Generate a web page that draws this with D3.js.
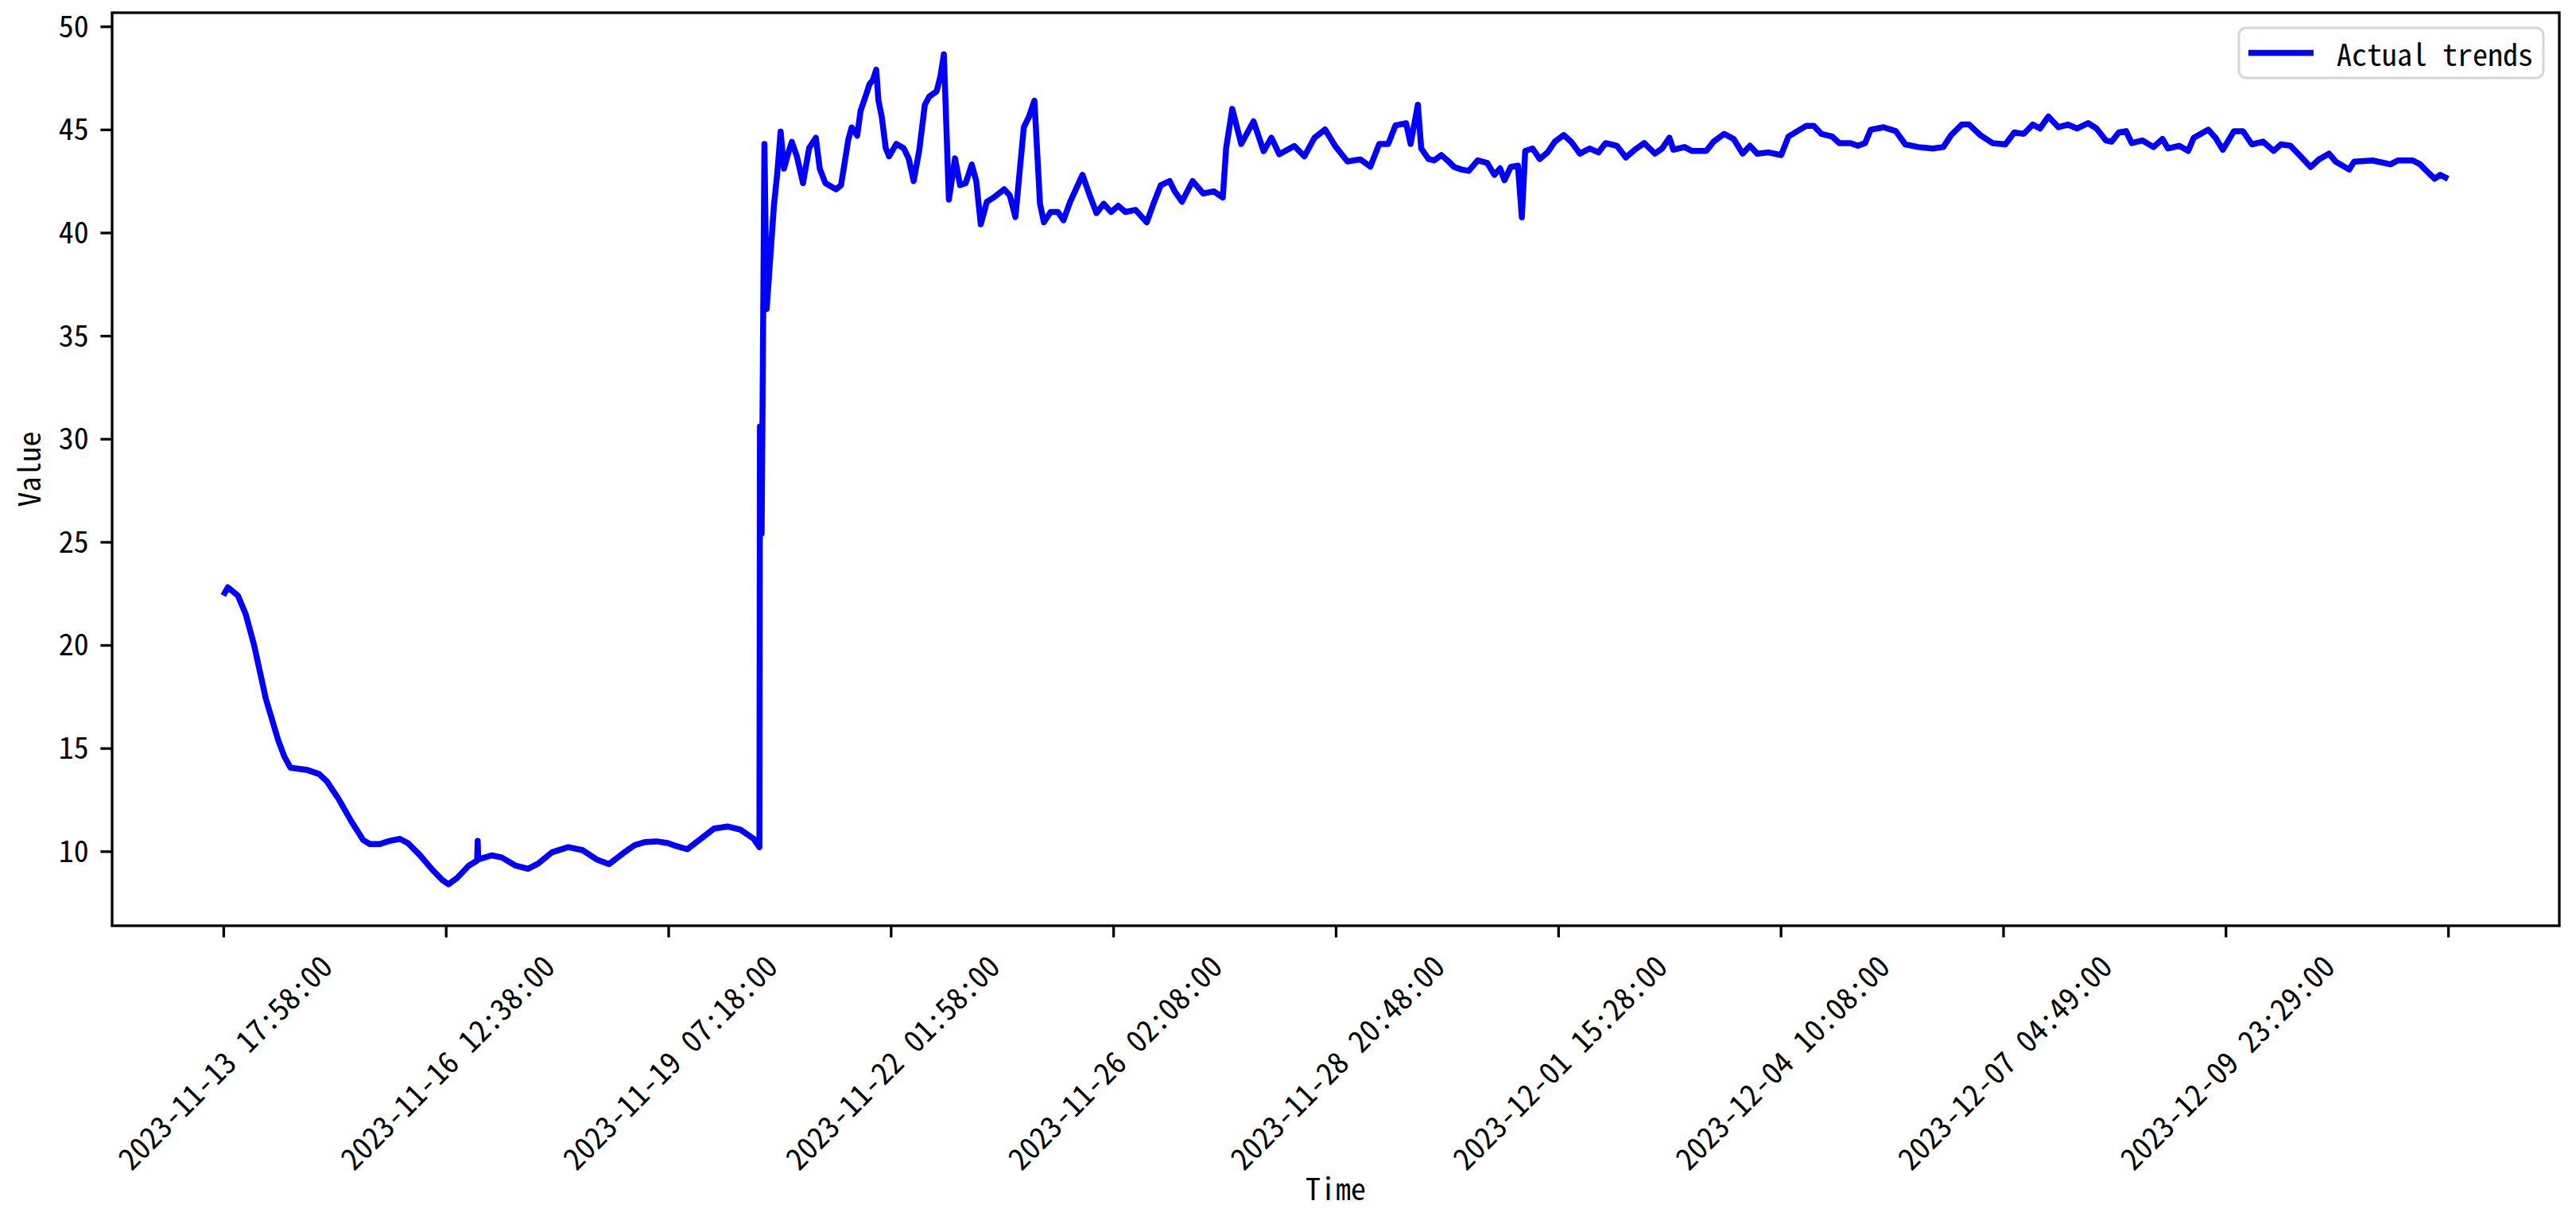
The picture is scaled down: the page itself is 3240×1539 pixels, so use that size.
<!DOCTYPE html>
<html><head><meta charset="utf-8">
<script src="https://cdn.jsdelivr.net/npm/d3@7"></script>
<style>
html,body{margin:0;padding:0;background:#fff;}
svg{display:block;background:#fff;}
text{font-family:"Noto Sans Mono CJK SC","Noto Sans Mono CJK JP","Liberation Mono","DejaVu Sans Mono",monospace;fill:#000;}
</style></head><body>
<svg id="chart" width="3240" height="1539"></svg>
<script>
// ---- data (sample number of the 10-minute series, value) ----
const sampleIdx = [0,8,26,40,55,76,98,109,120,149,171,185,207,229,250,262,280,297,316,330,352,374,392,403,418,439,454,455,456,480,498,523,545,563,588,617,643,668,690,715,736,755,775,795,807,830,854,878,902,925,949,959,
960,961,963,968,972,978,985,991,997,1003,1010,1017,1026,1037,1048,1060,1067,1077,1096,1105,1111,1118,1124,1134,1140,1150,1156,1162,1168,1172,1178,1185,1191,1204,1217,1226,1235,1245,1255,1263,1276,1283,1289,1298,1309,1318,1328,1339,1347,1355,1366,1378,1397,1407,1417,1432,1441,1451,1461,1468,1480,1493,1503,1515,1537,1550,1562,1575,1588,1601,1614,1632,1652,1664,1677,1693,1702,1715,1734,1753,1772,1788,1794,1805,1821,
1843,1861,1875,1889,1916,1934,1952,1971,1989,2011,2034,2052,2068,2084,2097,2116,2124,2137,
2143,2156,2166,2179,2192,2202,2215,2228,2244,2261,2274,2284,2292,2303,2316,2323,2329,2342,2355,2369,2382,2398,2411,2427,2444,2460,2473,2493,2509,2525,2542,2561,2574,2587,2594,2614,2627,2653,2666,2685,2702,2718,2731,2744,2764,2787,2800,2816,2832,2845,2859,2878,2891,2911,2924,2937,2947,2970,2992,3009,3032,3058,3077,3091,3110,3123,3143,3165,3188,3204,3221,3237,3250,3265,3283,3300,3316,3336,3351,3368,3378,3391,3404,3414,3433,3453,3469,3479,3499,3515,3525,3551,3564,3577,3597,3613,3629,3649,3668,3681,3698,3714,3734,3750,3767,3779,3803,3812,3845,3877,3890,3917,3930,3946,3956,3966,3980];
const trendValues = [22.4,22.8,22.4,21.5,20.0,17.4,15.4,14.6,14.05,13.95,13.75,13.4,12.5,11.45,10.55,10.35,10.35,10.5,10.6,10.4,9.8,9.1,8.6,8.4,8.7,9.3,9.55,10.5,9.6,9.8,9.7,9.3,9.15,9.4,9.95,10.2,10.05,9.6,9.38,9.9,10.3,10.45,10.48,10.4,10.28,10.1,10.6,11.1,11.2,11.05,10.6,10.2,
30.6,29.6,25.4,44.3,36.3,38.6,41.3,42.9,44.9,43.1,43.8,44.4,43.7,42.4,44.1,44.6,43.1,42.4,42.1,42.3,43.3,44.5,45.1,44.7,45.9,46.7,47.2,47.4,47.9,46.4,45.6,44.1,43.7,44.3,44.1,43.6,42.5,44.0,46.2,46.6,46.85,47.6,48.65,41.6,43.6,42.3,42.4,43.3,42.5,40.4,41.5,41.7,42.1,41.8,40.75,45.1,45.6,46.4,41.4,40.5,41.0,41.0,40.6,41.5,42.8,41.8,40.95,41.4,41.0,41.3,41.0,41.1,40.5,41.4,42.3,42.5,42.0,41.5,42.5,41.9,42.0,41.7,44.1,46.0,44.3,
45.4,43.95,44.6,43.8,44.2,43.7,44.6,45.0,44.2,43.45,43.55,43.2,44.3,44.3,45.2,45.3,44.3,46.2,
44.08,43.57,43.5,43.76,43.45,43.18,43.06,42.99,43.5,43.38,42.8,43.12,42.54,43.18,43.25,40.74,43.96,44.08,43.57,43.89,44.41,44.73,44.41,43.83,44.08,43.89,44.34,44.21,43.64,44.02,44.34,43.83,44.08,44.6,44.02,44.15,43.96,43.96,44.41,44.79,44.54,43.83,44.21,43.83,43.89,43.76,44.66,44.92,45.18,45.18,44.79,44.66,44.34,44.34,44.21,44.34,44.99,45.11,44.92,44.28,44.15,44.08,44.15,44.73,45.24,45.24,44.73,44.34,44.28,44.86,44.79,45.24,45.05,45.63,45.11,45.24,45.05,45.31,45.05,44.47,44.41,44.86,44.92,44.34,44.47,44.15,44.54,44.08,44.21,43.96,44.6,44.99,44.6,44.02,44.92,44.92,44.28,44.41,43.96,44.28,44.21,43.76,43.18,43.57,43.83,43.44,43.06,43.44,43.5,43.31,43.5,43.5,43.31,42.87,42.61,42.8,42.61];
const tickIndex = [0,398,796,1194,1592,1990,2388,2786,3184,3582,3980];
const tickLabels = ["2023-11-13 17:58:00","2023-11-16 12:38:00","2023-11-19 07:18:00","2023-11-22 01:58:00","2023-11-26 02:08:00","2023-11-28 20:48:00","2023-12-01 15:28:00","2023-12-04 10:08:00","2023-12-07 04:49:00","2023-12-09 23:29:00",""];
const yTicks = [10,15,20,25,30,35,40,45,50];
const seriesName = "Actual trends";
const xTitle = "Time", yTitle = "Value";

// ---- layout ----
const W = 3240, H = 1539;
const plot = {left:141, right:3219, top:16, bottom:1164};
const fs = 38, tickLen = 14.6, pad = 14.6, spineW = 3.3, lineW = 7.5;
const svg = d3.select('#chart');
svg.append('rect').attr('width',W).attr('height',H).attr('fill','#fff');

const data = sampleIdx.map((s,i)=>({s, v:trendValues[i]}));
const nLast = d3.max(sampleIdx);
const x = d3.scaleLinear().domain([-0.05*nLast, nLast*1.05]).range([plot.left, plot.right]);
const [vmin, vmax] = d3.extent(trendValues);
const vr = vmax - vmin;
const y = d3.scaleLinear().domain([vmin-0.05*vr, vmax+0.05*vr]).range([plot.bottom, plot.top]);

function mono(sel, size){
  sel.style('font-size', size+'px').each(function(){
    const n = this.textContent.length;
    if(n>0){ this.setAttribute('textLength', n*0.5*size); this.setAttribute('lengthAdjust','spacingAndGlyphs'); }
  });
}

// line
svg.append('path').datum(data)
  .attr('fill','none').attr('stroke','#0000ff').attr('stroke-width',lineW)
  .attr('stroke-linejoin','round').attr('stroke-linecap','butt')
  .attr('d', d3.line().x(d=>x(d.s)).y(d=>y(d.v)));

// x axis
const gx = svg.append('g').attr('transform',`translate(0,${plot.bottom})`)
  .call(d3.axisBottom(x).tickValues(tickIndex).tickFormat((d,i)=>tickLabels[i]).tickSize(tickLen).tickPadding(0));
gx.select('.domain').remove();
gx.selectAll('.tick line').attr('stroke','#000').attr('stroke-width',spineW);
gx.selectAll('.tick text').each(function(){
  const t = d3.select(this);
  mono(t, fs);
  const L = this.textContent.length*0.5*fs;
  const cy = tickLen + pad + (L + fs)/(2*Math.SQRT2);
  t.attr('x',0).attr('y',cy).attr('dy',null)
   .attr('text-anchor','middle').attr('dominant-baseline','central')
   .attr('transform',`rotate(-45,0,${cy})`);
});

// y axis
const gy = svg.append('g').attr('transform',`translate(${plot.left},0)`)
  .call(d3.axisLeft(y).tickValues(yTicks).tickSize(tickLen).tickPadding(pad));
gy.select('.domain').remove();
gy.selectAll('.tick line').attr('stroke','#000').attr('stroke-width',spineW);
gy.selectAll('.tick text').each(function(){ mono(d3.select(this), fs); })
  .attr('dy','0.34em');

// spines
svg.append('rect').attr('x',plot.left).attr('y',plot.top)
  .attr('width',plot.right-plot.left).attr('height',plot.bottom-plot.top)
  .attr('fill','none').attr('stroke','#000').attr('stroke-width',spineW);

// axis titles
const tx = svg.append('text').attr('x',(plot.left+plot.right)/2).attr('y',1509)
  .attr('text-anchor','middle').text(xTitle);
mono(tx, fs);
const ty = svg.append('text').attr('transform',`translate(51,${(plot.top+plot.bottom)/2}) rotate(-90)`)
  .attr('text-anchor','middle').text(yTitle);
mono(ty, fs);

// legend
const lgW = 383, lgH = 63;
const lgX = plot.right - 20 - lgW, lgY = plot.top + 19;
const lg = svg.append('g').attr('transform',`translate(${lgX},${lgY})`);
lg.append('rect').attr('width',lgW).attr('height',lgH).attr('rx',9).attr('ry',9)
  .attr('fill','#fff').attr('fill-opacity',0.8).attr('stroke','#d6d6d6').attr('stroke-width',3);
lg.append('line').attr('x1',12).attr('x2',94).attr('y1',lgH/2).attr('y2',lgH/2)
  .attr('stroke','#0000ff').attr('stroke-width',lineW);
const lt = lg.append('text').attr('x',123).attr('y',lgH/2).attr('dominant-baseline','central').text(seriesName);
mono(lt, fs);
</script>
</body></html>
